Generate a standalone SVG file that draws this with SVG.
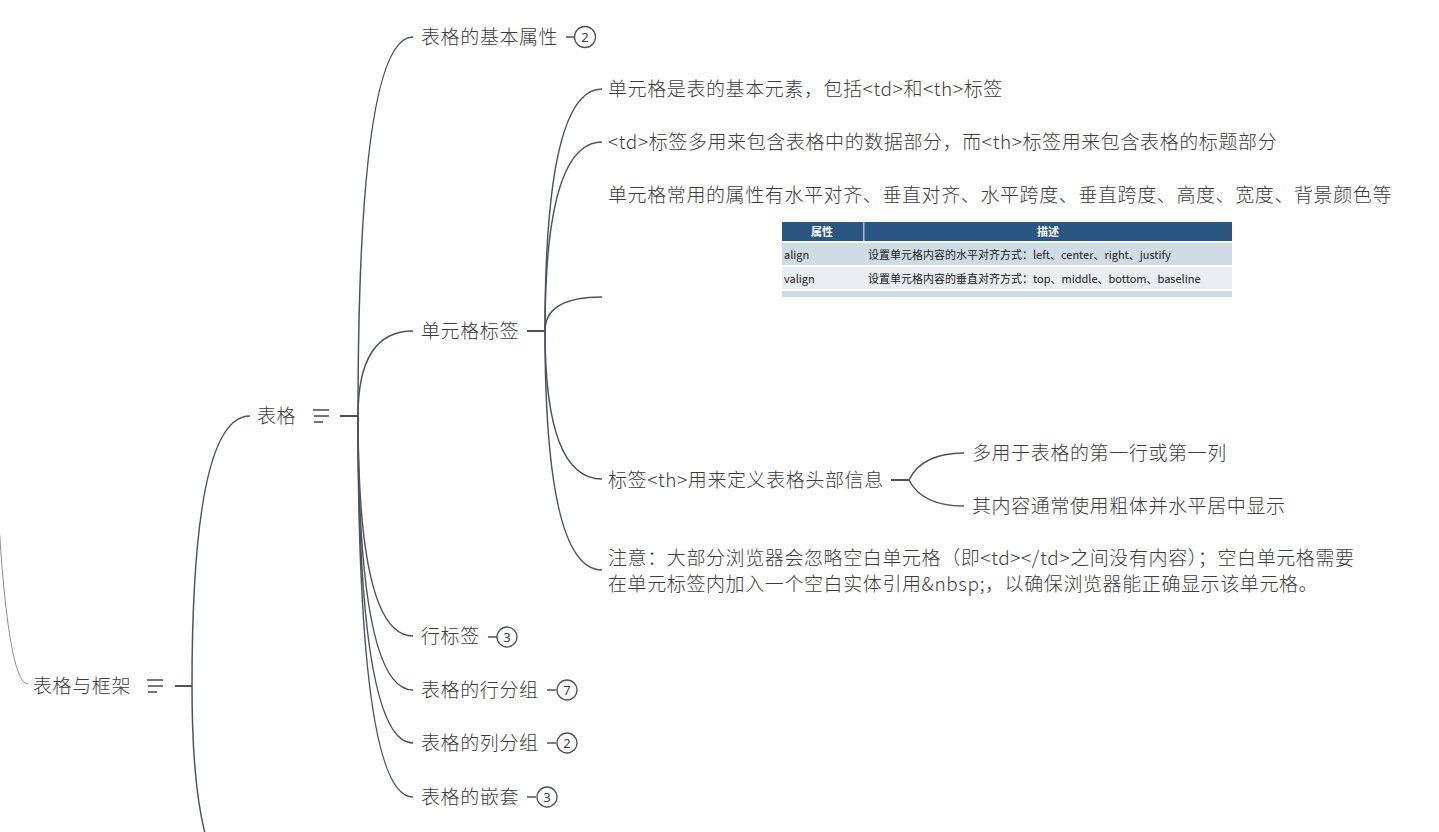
<svg xmlns="http://www.w3.org/2000/svg" width="1439" height="832" viewBox="0 0 1439 832">
<style>
.t{font-family:"Noto Sans CJK SC","Microsoft YaHei","Noto Sans",sans-serif;font-size:19px;letter-spacing:0.6px;fill:#3c3c3c;font-weight:300;dominant-baseline:central;transform:translateY(-2px)}
.c{fill:none;stroke:#4d535c;stroke-width:1.5}
.thin{fill:none;stroke:#8a8e94;stroke-width:1}
.stub{stroke:#4d535c;stroke-width:2}
.menu{stroke:#4d535c;stroke-width:1.6}
.cnt{fill:#fff;stroke:#4d535c;stroke-width:1.3}
.num{font-family:"Noto Sans","Liberation Sans",sans-serif;font-size:13px;fill:#3c3c3c;text-anchor:middle;dominant-baseline:central}
.tb{font-family:"Noto Sans CJK SC","Microsoft YaHei",sans-serif;font-size:11px;fill:#222;dominant-baseline:central}
.th{font-family:"Noto Sans CJK SC","Microsoft YaHei",sans-serif;font-size:11px;fill:#fff;font-weight:bold;text-anchor:middle;dominant-baseline:central}
</style>
<rect width="1439" height="832" fill="#fff"/>
<g id="connectors">
<path class="thin" d="M -12 -20 Q -12 684 28 684"/>
<line class="stub" x1="175" y1="686" x2="192" y2="686"/>
<path class="c" d="M 192 686 Q 192 416 250 416"/>
<path class="c" d="M 192 686 Q 192 890 250 890"/>
<line class="stub" x1="340" y1="416" x2="358" y2="416"/>
<path class="c" d="M 358 416 Q 358 37 413 37"/>
<path class="c" d="M 358 416 Q 358 331 413 331"/>
<path class="c" d="M 358 416 Q 358 636 413 636"/>
<path class="c" d="M 358 416 Q 358 690 413 690"/>
<path class="c" d="M 358 416 Q 358 743 413 743"/>
<path class="c" d="M 358 416 Q 358 797 413 797"/>
<line class="stub" x1="527" y1="331" x2="545" y2="331"/>
<path class="c" d="M 545 331 Q 545 89 602 89"/>
<path class="c" d="M 545 331 Q 545 142 602 142"/>
<path class="c" d="M 545 331 Q 545 297 602 297"/>
<path class="c" d="M 545 331 Q 545 479 602 479"/>
<path class="c" d="M 545 331 Q 545 570 602 570"/>
<line class="stub" x1="891" y1="480" x2="909" y2="480"/>
<path class="c" d="M 909 480 Q 922 453 964 453"/>
<path class="c" d="M 909 480 Q 922 506 964 506"/>
</g>
<g id="root">
<text class="t" x="33" y="686">表格与框架</text>
<line class="menu" x1="147" y1="680" x2="163" y2="680"/>
<line class="menu" x1="148" y1="686" x2="163" y2="686"/>
<line class="menu" x1="148" y1="692" x2="157" y2="692"/>
</g>
<g id="biaoge">
<text class="t" x="257" y="416">表格</text>
<line class="menu" x1="313" y1="410" x2="329" y2="410"/>
<line class="menu" x1="314" y1="416" x2="329" y2="416"/>
<line class="menu" x1="314" y1="422" x2="323" y2="422"/>
</g>
<g id="jibenshuxing">
<text class="t" x="421" y="37">表格的基本属性</text>
<line class="c" x1="566" y1="37" x2="574" y2="37"/>
<circle class="cnt" cx="585" cy="37" r="10.5"/>
<text class="num" x="585" y="37">2</text>
</g>
<g id="danyuangebiaoqian">
<text class="t" x="421" y="331">单元格标签</text>
</g>
<g id="xingbiaoqian">
<text class="t" x="421" y="636">行标签</text>
<line class="c" x1="488" y1="637" x2="497" y2="637"/>
<circle class="cnt" cx="507" cy="637" r="10"/>
<text class="num" x="507" y="637">3</text>
</g>
<g id="xingfenzu">
<text class="t" x="421" y="690">表格的行分组</text>
<line class="c" x1="547" y1="690" x2="556" y2="690"/>
<circle class="cnt" cx="567" cy="690" r="10"/>
<text class="num" x="567" y="690">7</text>
</g>
<g id="liefenzu">
<text class="t" x="421" y="743">表格的列分组</text>
<line class="c" x1="547" y1="743" x2="556" y2="743"/>
<circle class="cnt" cx="567" cy="743" r="10"/>
<text class="num" x="567" y="743">2</text>
</g>
<g id="qiantao">
<text class="t" x="421" y="797">表格的嵌套</text>
<line class="c" x1="527" y1="797" x2="536" y2="797"/>
<circle class="cnt" cx="547" cy="797" r="10"/>
<text class="num" x="547" y="797">3</text>
</g>
<g id="c1">
<text class="t" x="608" y="89">单元格是表的基本元素，包括&lt;td&gt;和&lt;th&gt;标签</text>
</g>
<g id="c2">
<text class="t" x="608" y="142">&lt;td&gt;标签多用来包含表格中的数据部分，而&lt;th&gt;标签用来包含表格的标题部分</text>
</g>
<g id="c3">
<text class="t" x="608" y="195">单元格常用的属性有水平对齐、垂直对齐、水平跨度、垂直跨度、高度、宽度、背景颜色等</text>
<rect x="782" y="222" width="450" height="19" fill="#2b5682"/>
<rect x="863" y="222" width="1.5" height="19" fill="#fff" opacity="0.6"/>
<text class="th" x="822" y="231">属性</text>
<text class="th" x="1048" y="231">描述</text>
<rect x="782" y="243" width="450" height="22" fill="#d0dce4"/>
<rect x="782" y="267" width="450" height="22" fill="#e8eef2"/>
<rect x="782" y="291" width="450" height="6" fill="#d0dce4"/>
<text class="tb" x="784" y="254">align</text>
<text class="tb" x="868" y="254">设置单元格内容的水平对齐方式：left、center、right、justify</text>
<text class="tb" x="784" y="278">valign</text>
<text class="tb" x="868" y="278">设置单元格内容的垂直对齐方式：top、middle、bottom、baseline</text>
</g>
<g id="c4">
<text class="t" x="608" y="480">标签&lt;th&gt;用来定义表格头部信息</text>
</g>
<g id="c4a">
<text class="t" x="972" y="453">多用于表格的第一行或第一列</text>
</g>
<g id="c4b">
<text class="t" x="972" y="506">其内容通常使用粗体并水平居中显示</text>
</g>
<g id="c5">
<text class="t" x="608" y="558">注意：大部分浏览器会忽略空白单元格（即&lt;td&gt;&lt;/td&gt;之间没有内容）；空白单元格需要</text>
<text class="t" x="608" y="584">在单元标签内加入一个空白实体引用&amp;nbsp;，以确保浏览器能正确显示该单元格。</text>
</g>
</svg>
